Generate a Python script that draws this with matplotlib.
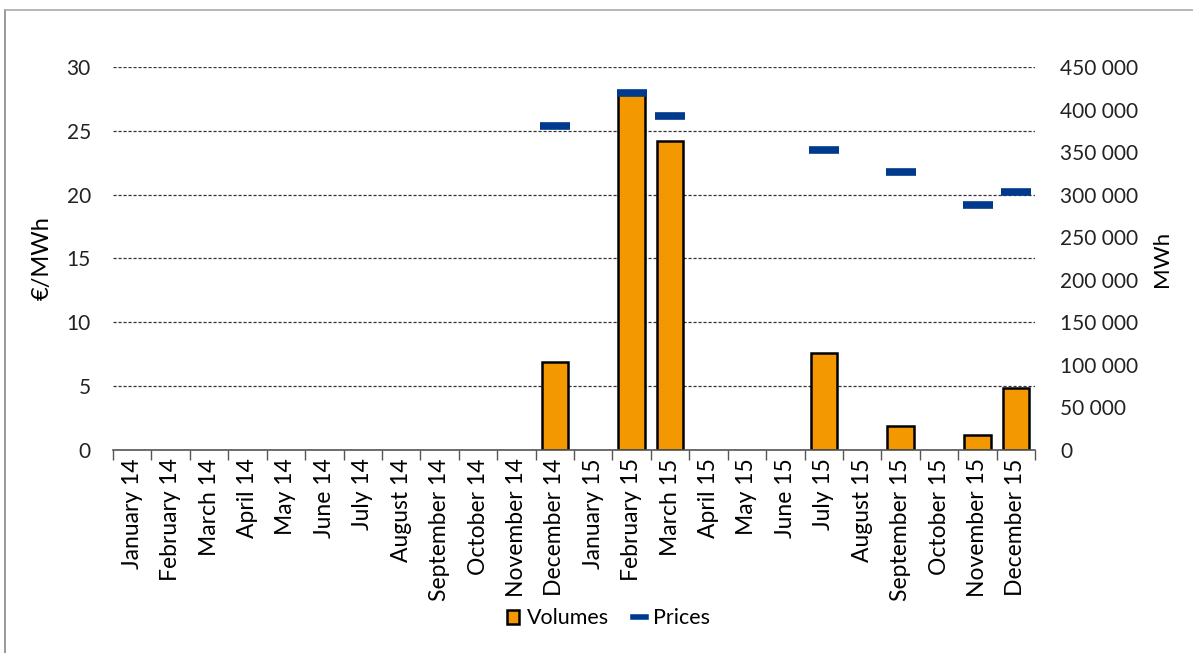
import numpy as np
import matplotlib
matplotlib.use("Agg")
import matplotlib.pyplot as plt
from matplotlib.ticker import MultipleLocator, FuncFormatter
from matplotlib.lines import Line2D
from matplotlib.patches import Patch

plt.rcParams['font.family'] = ['Lato', 'DejaVu Sans']

# Data
months = ["January 14", "February 14", "March 14", "April 14", "May 14", "June 14",
          "July 14", "August 14", "September 14", "October 14", "November 14", "December 14",
          "January 15", "February 15", "March 15", "April 15", "May 15", "June 15",
          "July 15", "August 15", "September 15", "October 15", "November 15", "December 15"]
volumes = [np.nan] * 11 + [103500, np.nan, 420000, 363000, np.nan, np.nan, np.nan,
                           114000, np.nan, 28500, np.nan, 18000, 73000]
prices = [np.nan] * 11 + [25.4, np.nan, 27.95, 26.2, np.nan, np.nan, np.nan,
                          23.5, np.nan, 21.75, np.nan, 19.2, 20.2]

orange = "#F39800"
navy = "#003A8C"

fig = plt.figure(figsize=(11.93, 6.53), dpi=100)
ax = fig.add_axes([0.0947, 0.311, 0.773, 0.5864])
ax2 = ax.twinx()
ax.set_zorder(2)
ax2.set_zorder(1)
ax.patch.set_visible(False)

x = np.arange(len(months))

# bars on the MWh axis
ax2.bar(x, volumes, width=0.69, color=orange, edgecolor="black", linewidth=1.8, zorder=3)
ax2.set_ylim(0, 450000)
ax2.yaxis.set_major_locator(MultipleLocator(50000))
ax2.yaxis.set_major_formatter(FuncFormatter(lambda v, p: f"{int(v):,}".replace(",", " ")))
# gridlines follow the €/MWh steps (5 €/MWh = 75 000 MWh on this scale)
ax2.yaxis.set_minor_locator(MultipleLocator(75000))
ax2.yaxis.remove_overlapping_locs = False
ax2.grid(which="minor", axis="y", color="#333333", linestyle=(0, (2.5, 1.5)), linewidth=0.9)
ax2.set_axisbelow(True)
ax2.tick_params(axis="y", which="both", length=0, labelsize=15, pad=18, colors="#222222")
ax2.set_ylabel("MWh", fontsize=16, labelpad=10)

# prices on the €/MWh axis
ax.plot(x, prices, linestyle="none", marker="_", markersize=21, markeredgewidth=5.5,
        color=navy, zorder=5)
ax.set_ylim(0, 30)
ax.yaxis.set_major_locator(MultipleLocator(5))
ax.tick_params(axis="y", length=0, labelsize=15, pad=16, colors="#222222")
ax.set_ylabel("€/MWh", fontsize=17, labelpad=10)

ax.set_xlim(-0.5, len(months) - 0.5)
ax.set_xticks(np.arange(len(months) + 1) - 0.5)
ax.set_xticklabels([])
ax.set_xticks(x, minor=True)
ax.set_xticklabels(months, minor=True, rotation=90, fontsize=16.5)
ax.tick_params(axis="x", which="major", length=7, width=1, color="#555555", direction="out")
ax.tick_params(axis="x", which="minor", length=0, pad=6)

for a in (ax, ax2):
    for s in ["top", "left", "right"]:
        a.spines[s].set_visible(False)
ax2.spines["bottom"].set_visible(False)
ax.spines["bottom"].set_color("#555555")
ax.spines["bottom"].set_linewidth(1.2)

handles = [Patch(facecolor=orange, edgecolor="black", linewidth=1.8, label="Volumes"),
           Line2D([], [], color=navy, linewidth=4, label="Prices")]
fig.legend(handles=handles, loc="center", bbox_to_anchor=(0.51, 0.053), ncol=2,
           frameon=False, fontsize=15.5, handlelength=0.6, handleheight=0.6,
           handletextpad=0.35, columnspacing=1.1)

# chart border
fig.add_artist(Line2D([0.004, 0.004], [0, 0.985], transform=fig.transFigure, color="#888888", linewidth=1.2))
fig.add_artist(Line2D([0.004, 1], [0.985, 0.985], transform=fig.transFigure, color="#aaaaaa", linewidth=1.2))

fig.savefig("out.png", dpi=100)
